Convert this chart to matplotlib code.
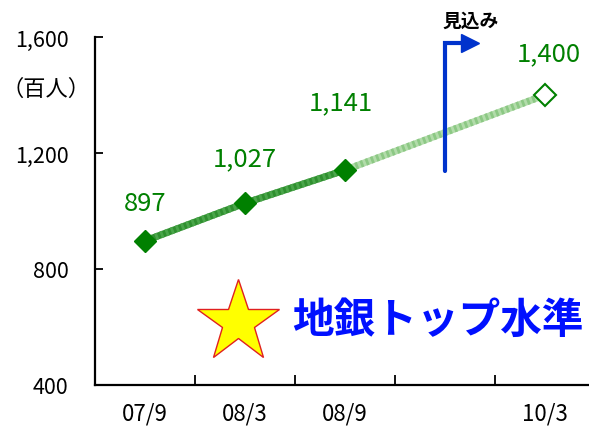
import matplotlib
matplotlib.use("Agg")
import matplotlib.pyplot as plt
import numpy as np

plt.rcParams['font.family'] = ['Noto Sans CJK JP', 'DejaVu Sans']

# data
categories = ["07/9", "08/3", "08/9", "", "10/3"]
actual_x = [0, 1, 2]
actual_vals = [897, 1027, 1141]
forecast_x = [2, 4]
forecast_vals = [1141, 1400]
label_x = [0, 1, 2, 4]
label_vals = [897, 1027, 1141, 1400]
label_offsets = [(0, 27), (0, 32), (-3, 49), (3, 30)]   # points, text above markers
yticks = [400, 800, 1200, 1600]

green = '#008000'
blue = '#0033cc'

fig = plt.figure(figsize=(5.89, 4.31), dpi=100)
ax = fig.add_axes([95/589, 45/431, 500/589, 348/431])

ax.set_xlim(-0.5, 4.5)
ax.set_ylim(400, 1600)

# forecast part (light) then actual part (dark), dotted overlay for texture
ax.plot(forecast_x, forecast_vals, color='#b2dcaa', lw=5, solid_capstyle='butt', zorder=2)
ax.plot(forecast_x, forecast_vals, color='#8cc884', lw=5, ls=(0, (0.4, 0.4)), zorder=2)
ax.plot(actual_x, actual_vals, color='#2f8f2f', lw=5, solid_capstyle='butt', zorder=3)
ax.plot(actual_x, actual_vals, color='#4aa64a', lw=5, ls=(0, (0.4, 0.4)), zorder=3)
ax.plot(actual_x, actual_vals, ls='none', marker='D', ms=11.5, color=green, zorder=4)
ax.plot(forecast_x[-1:], forecast_vals[-1:], ls='none', marker='D', ms=11.5,
        mfc='white', mec=green, mew=1.5, zorder=4)

for x, v, off in zip(label_x, label_vals, label_offsets):
    ax.annotate(f"{v:,}", (x, v), xytext=off, textcoords='offset points',
                ha='center', va='center', color=green, fontsize=18.5)

# 見込み flag
ax.plot([3, 3, 3.17], [1138, 1579, 1579], color=blue, lw=3,
        solid_capstyle='round', solid_joinstyle='miter', zorder=5, clip_on=False)
ax.plot([3.25], [1579], marker='>', ms=13, color=blue, ls='none', zorder=5, clip_on=False)
ax.text(3.26, 1659, "見込み", ha='center', va='center', fontsize=13.5,
        fontweight='bold', color='black', clip_on=False)

# star + caption
ax.plot([0.93], [617], marker='*', ms=62, mfc='#ffff00', mec='#e02020', mew=1,
        ls='none', zorder=5)
ax.text(2.93, 625, "地銀トップ水準", ha='center', va='center', fontsize=30,
        fontweight='bold', color='#0010ff', zorder=5)

# axes styling
for s in ['top', 'right']:
    ax.spines[s].set_visible(False)
for s in ['left', 'bottom']:
    ax.spines[s].set_linewidth(1.6)

ax.set_yticks(yticks)
ax.set_yticklabels([f"{v:,}" for v in yticks])
ax.tick_params(axis='y', direction='in', length=6, width=1.3, pad=19, labelsize=15.5)

ax.set_xticks(range(len(categories)))
ax.set_xticklabels(categories)
ax.set_xticks(np.arange(0.5, len(categories) - 0.5, 1), minor=True)
ax.tick_params(axis='x', which='major', length=0, pad=12, labelsize=16)
ax.tick_params(axis='x', which='minor', direction='in', length=7, width=1.3)

fig.text(46/589, 1 - 89/431, "（百人）", ha='center', va='center', fontsize=16)

fig.savefig("out.png", dpi=100)
